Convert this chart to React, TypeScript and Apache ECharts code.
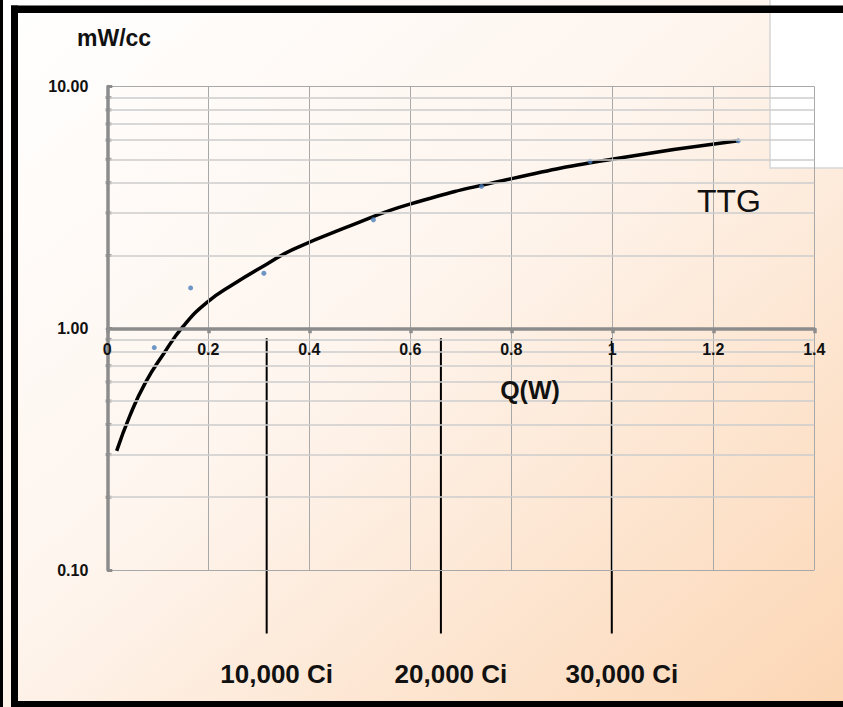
import React, { useEffect, useRef } from "react";
import * as echarts from "echarts";

// Trend curve
const curveQ = [0.0186, 0.045, 0.0747, 0.1109, 0.1505, 0.1968, 0.2495, 0.3156, 0.368, 0.4806, 0.599, 0.801, 0.999, 1.2495];
const curveY = [0.311, 0.436, 0.592, 0.781, 1.02, 1.277, 1.521, 1.84, 2.12, 2.65, 3.26, 4.16, 5.0, 5.96];

// Measured points (blue dots)
const pointQ = [0.093, 0.165, 0.31, 0.527, 0.741, 0.956, 1.2495];
const pointY = [0.832, 1.468, 1.689, 2.81, 3.86, 4.9, 5.96];

// Log minor grid values
const minorValues = [0.2, 0.3, 0.4, 0.5, 0.6, 0.7, 0.8, 0.9, 2, 3, 4, 5, 6, 7, 8, 9];

// Activity markers
const activityQ = [0.3156, 0.6606, 0.999];
const activityLabels = ["10,000 Ci", "20,000 Ci", "30,000 Ci"];
const markerTop = 0.91;
const markerBottom = 0.0546;

const FONT = '"Liberation Sans", Arial, Helvetica, sans-serif';

export default function App() {
  const ref = useRef<HTMLDivElement>(null);

  useEffect(() => {
    document.body.style.margin = "0";
    if (!ref.current) return;
    const chart = echarts.init(ref.current, undefined, { renderer: "svg" });

    const gridTop = 86.5;
    const gridBottom = 137;
    const gridHeight = 707 - gridTop - gridBottom;

    const option: any = {
      animation: false,
      grid: { left: 107.3, right: 28.7, top: gridTop, bottom: gridBottom },
      xAxis: {
        type: "value",
        min: 0,
        max: 1.4,
        interval: 0.2,
        position: "bottom",
        offset: -gridHeight / 2,
        z: 5,
        axisLine: { show: true, lineStyle: { color: "#8c8c8c", width: 3.5 } },
        axisTick: { show: true, inside: false, length: 5, lineStyle: { color: "#8c8c8c", width: 3.5 } },
        axisLabel: {
          color: "#111",
          fontWeight: "bold",
          fontSize: 16,
          fontFamily: FONT,
          margin: 13,
        },
        splitLine: { show: true, lineStyle: { color: "#a8a8a8", width: 1 } },
      },
      yAxis: {
        type: "log",
        logBase: 10,
        min: 0.1,
        max: 10,
        z: 5,
        axisLine: { show: true, lineStyle: { color: "#8c8c8c", width: 3.5 } },
        axisTick: { show: true, inside: true, length: 5, lineStyle: { color: "#8c8c8c", width: 3 } },
        axisLabel: {
          color: "#111",
          fontWeight: "bold",
          fontSize: 16,
          fontFamily: FONT,
          margin: 19,
          formatter: (v: number) => Number(v).toFixed(2),
        },
        splitLine: { show: true, lineStyle: { color: "#a8a8a8", width: 1 } },
      },
      graphic: [
        {
          type: "rect",
          z: -20,
          silent: true,
          shape: { x: 0, y: 0, width: 843, height: 707 },
          style: {
            fill: new echarts.graphic.LinearGradient(0, 0, 1, 1, [
              { offset: 0, color: "#ffffff" },
              { offset: 0.45, color: "#fef5ee" },
              { offset: 1, color: "#fcd6b4" },
            ]),
          },
        },
        {
          type: "rect",
          z: -19,
          silent: true,
          shape: { x: 770, y: -2, width: 80, height: 170 },
          style: { fill: "#ffffff", stroke: "#d6d6d6", lineWidth: 1.5 },
        },
        { type: "rect", z: 100, silent: true, shape: { x: 0, y: 0, width: 3, height: 707 }, style: { fill: "#000" } },
        { type: "rect", z: 100, silent: true, shape: { x: 11, y: 5.5, width: 7, height: 701.5 }, style: { fill: "#000" } },
        { type: "rect", z: 100, silent: true, shape: { x: 11, y: 5.5, width: 832, height: 7.5 }, style: { fill: "#000" } },
        { type: "rect", z: 100, silent: true, shape: { x: 11, y: 701, width: 832, height: 6 }, style: { fill: "#000" } },
        {
          type: "text",
          z: 100,
          x: 77,
          y: 38,
          style: {
            text: "mW/cc",
            fill: "#111",
            font: `bold 23px ${FONT}`,
            align: "left",
            verticalAlign: "middle",
            textAlign: "left",
            textVerticalAlign: "middle",
          },
        },
        {
          type: "text",
          z: 100,
          x: 530,
          y: 390,
          style: {
            text: "Q(W)",
            fill: "#111",
            font: `bold 25px ${FONT}`,
            align: "center",
            verticalAlign: "middle",
            textAlign: "center",
            textVerticalAlign: "middle",
          },
        },
        {
          type: "text",
          z: 100,
          x: 697,
          y: 201,
          style: {
            text: "TTG",
            fill: "#111",
            font: `32px ${FONT}`,
            align: "left",
            verticalAlign: "middle",
            textAlign: "left",
            textVerticalAlign: "middle",
          },
        },
      ],
      series: [
        {
          type: "scatter",
          name: "minor",
          z: 1,
          clip: false,
          silent: true,
          symbol: "rect",
          symbolSize: [6, 3],
          symbolOffset: [1.2, 0],
          itemStyle: { color: "#8c8c8c" },
          data: minorValues.map((v) => [0, v]),
          markLine: {
            silent: true,
            symbol: "none",
            label: { show: false },
            lineStyle: { color: "#cdcdcd", width: 1.5, type: "solid" },
            data: minorValues.map((v) => ({ yAxis: v })),
          },
        },
        {
          type: "line",
          name: "TTG",
          z: 3,
          smooth: true,
          showSymbol: false,
          clip: false,
          lineStyle: { color: "#000", width: 3.5 },
          data: curveQ.map((q, i) => [q, curveY[i]]),
        },
        {
          type: "scatter",
          name: "data",
          z: 4,
          symbolSize: 5,
          itemStyle: { color: "#4a7ebb" },
          data: pointQ.map((q, i) => [q, pointY[i]]),
        },
        {
          type: "custom",
          name: "activity",
          z: 3,
          clip: false,
          silent: true,
          data: activityQ.map((q) => [q, markerTop]),
          encode: { x: 0, y: 1 },
          renderItem: (params: any, api: any) => {
            const q = api.value(0);
            const top = api.coord([q, markerTop]);
            const bot = api.coord([q, markerBottom]);
            return {
              type: "group",
              children: [
                {
                  type: "line",
                  shape: { x1: top[0], y1: top[1], x2: bot[0], y2: bot[1] },
                  style: { stroke: "#000", lineWidth: 2 },
                },
                {
                  type: "text",
                  x: top[0] + 10,
                  y: bot[1] + 40,
                  style: {
                    text: activityLabels[params.dataIndex],
                    fill: "#111",
                    font: `bold 26px ${FONT}`,
                    align: "center",
                    verticalAlign: "middle",
                    textAlign: "center",
                    textVerticalAlign: "middle",
                  },
                },
              ],
            };
          },
        },
      ],
    };

    chart.setOption(option);
    return () => chart.dispose();
  }, []);

  return <div ref={ref} style={{ width: 843, height: 707 }} />;
}
